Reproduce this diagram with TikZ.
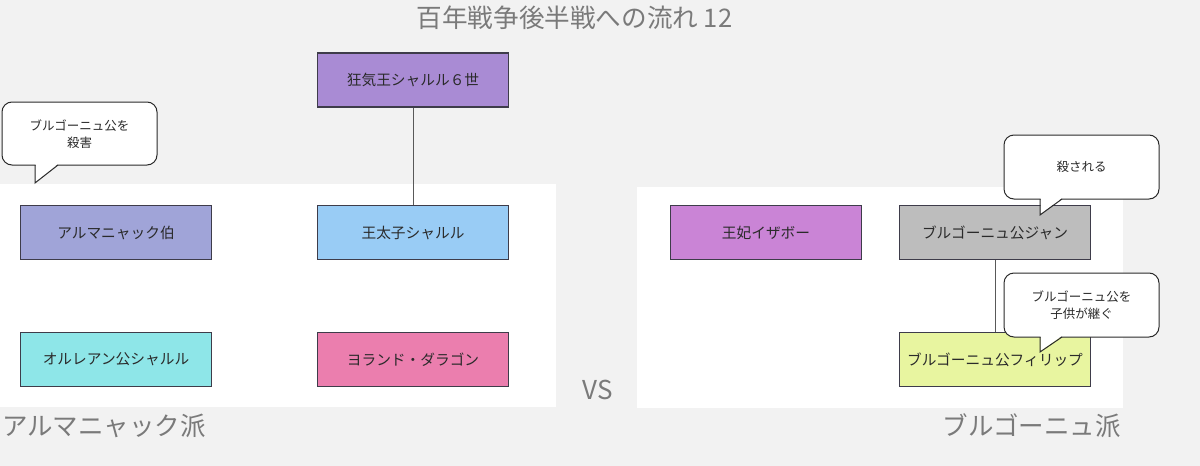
\documentclass[tikz,border=0pt]{standalone}
\usepackage{fontspec}
\setmainfont{Noto Sans CJK JP}
\definecolor{bg}{HTML}{F2F2F2}
\definecolor{edge}{HTML}{3E3C4A}
\definecolor{txt}{HTML}{2A2A2A}
\definecolor{grey}{HTML}{7A7A7A}
\definecolor{cKing}{HTML}{A98BD4}
\definecolor{cArm}{HTML}{A0A4D8}
\definecolor{cDau}{HTML}{99CCF5}
\definecolor{cOrl}{HTML}{8EE6E8}
\definecolor{cYol}{HTML}{EB7EAE}
\definecolor{cIsa}{HTML}{CA84D6}
\definecolor{cJean}{HTML}{BDBDBD}
\definecolor{cPhil}{HTML}{E8F5A0}
\tikzset{
  person/.style={draw=edge, line width=1.2pt, rectangle, minimum width=191pt, minimum height=54pt,
    inner sep=0pt, text=txt, font=\fontsize{14.7}{17}\selectfont},
  link/.style={draw=black!65, line width=1pt},
  bubble/.style={draw=txt, line width=1pt, fill=white, rounded corners=10pt},
  tail/.style={draw=txt, line width=1pt},
  bubbletext/.style={text=txt, align=center, font=\fontsize{12.5}{17}\selectfont, inner sep=0pt},
  heading/.style={text=grey, inner sep=0pt},
}
\begin{document}
\begin{tikzpicture}[x=1pt,y=-1pt]
\useasboundingbox (0,0) rectangle (1200,466);
\fill[bg] (0,0) rectangle (1200,466);
% panels
\fill[white] (0,184) rectangle (556,407);
\fill[white] (637,187) rectangle (1123,408);
% title and labels
\node[heading, font=\fontsize{25.6}{30}\selectfont] (title) at (574.5,18) {百年戦争後半戦への流れ 12};
\node[heading, font=\fontsize{26}{30}\selectfont] (vs) at (598,389.5) {VS};
\node[heading, anchor=west, font=\fontsize{25.5}{30}\selectfont] (armg) at (2,426) {アルマニャック派};
\node[heading, anchor=east, font=\fontsize{25.5}{30}\selectfont] (burg) at (1121,426) {ブルゴーニュ派};
% person nodes
\node[person, fill=cKing] (king) at (413,80) {狂気王シャルル６世};
\node[person, fill=cArm] (arm) at (116,232.5) {アルマニャック伯};
\node[person, fill=cDau] (dau) at (413,232.5) {王太子シャルル};
\node[person, fill=cOrl] (orl) at (116,359.5) {オルレアン公シャルル};
\node[person, fill=cYol] (yol) at (413,359.5) {ヨランド・ダラゴン};
\node[person, fill=cIsa] (isa) at (766,232.5) {王妃イザボー};
\node[person, fill=cJean] (jean) at (995,232.5) {ブルゴーニュ公ジャン};
\node[person, fill=cPhil] (phil) at (995,359.5) {ブルゴーニュ公フィリップ};
% connectors
\draw[link] (king.south) -- (dau.north);
\draw[link] (jean.south) -- (phil.north);
% callout 1
\draw[bubble] (2,102) rectangle (157,165);
\fill[white] (35.5,163.5) -- (35.5,182) -- (58.5,163.5) -- cycle;
\coordinate (t1) at (35,183);
\draw[tail] (35,165) -- (t1) -- (58,165);
\node[bubbletext] (c1) at (79.5,134) {ブルゴーニュ公を\\殺害};
% callout 2
\draw[bubble] (1004,135) rectangle (1159,199);
\fill[white] (1040.5,197.5) -- (1040.5,214) -- (1062.5,197.5) -- cycle;
\coordinate (t2) at (1040,215);
\draw[tail] (1040,199) -- (t2) -- (1062,199);
\node[bubbletext] (c2) at (1081.5,167) {殺される};
% callout 3
\draw[bubble] (1004,273) rectangle (1159,337);
\fill[white] (1040.5,335.5) -- (1040.5,351) -- (1062.5,335.5) -- cycle;
\coordinate (t3) at (1040,352);
\draw[tail] (1040,337) -- (t3) -- (1062,337);
\node[bubbletext] (c3) at (1081.5,305) {ブルゴーニュ公を\\子供が継ぐ};
\end{tikzpicture}
\end{document}
